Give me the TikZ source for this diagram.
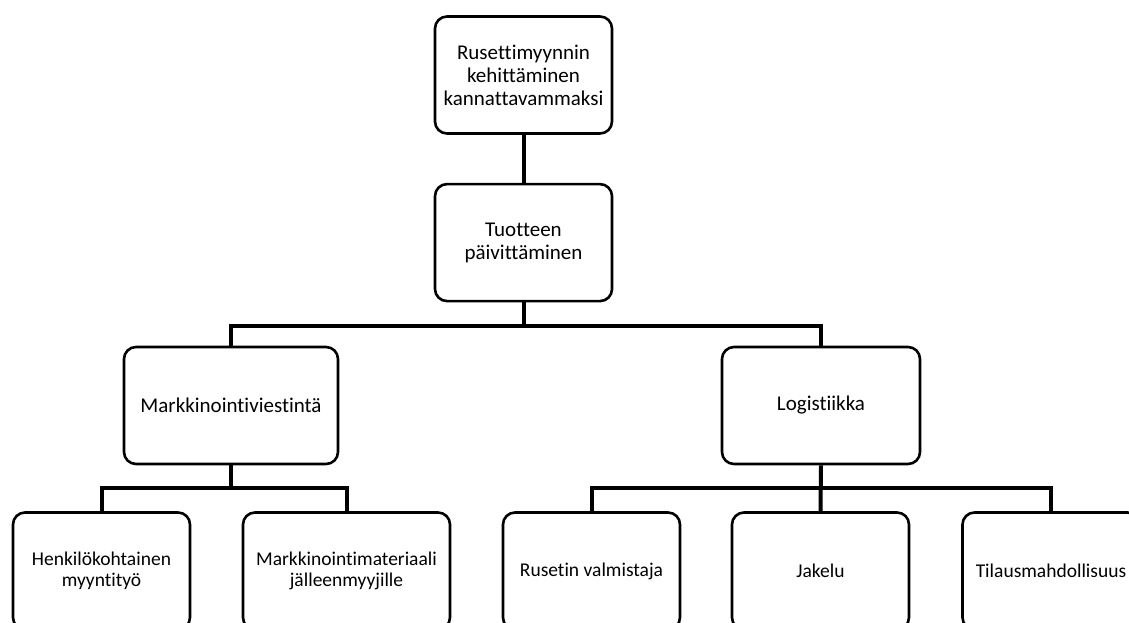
\documentclass[tikz,border=0pt]{standalone}
\usepackage{fontspec}
\setmainfont{Carlito}[Ligatures={NoCommon}]
\usetikzlibrary{positioning}

\begin{document}
\begin{tikzpicture}[x=1pt, y=-1pt,
  box/.style={draw, line width=2.6pt, rounded corners=12pt, align=center,
    minimum width=177pt, minimum height=117pt, inner sep=2pt,
    font=\fontsize{21}{23}\selectfont},
  leaf/.style={box, font=\fontsize{19.5}{21}\selectfont},
  conn/.style={line width=4pt}]
  \useasboundingbox (0,0) rectangle (1129,622);
  \clip (0,0) rectangle (1129,622);
  \node[box] (goal) at (523.5,75) {Rusettimyynnin\\kehittäminen\\kannattavammaksi};
  \node[box, below=48pt of goal] (tuote) {Tuotteen\\päivittäminen};
  \node[box, minimum width=214pt] (mark) at (231,405.5) {Markkinointiviestintä};
  \node[box, minimum width=198pt] (logi) at (821,405.5) {Logistiikka};
  \node[leaf] (henk) at (101.5,571) {Henkilökohtainen\\myyntityö};
  \node[leaf, minimum width=207pt] (mmat) at (346.5,571) {Markkinointimateriaali\\jälleenmyyjille};
  \node[leaf] (rus) at (591.5,571) {Rusetin valmistaja};
  \node[leaf] (jak) at (820.5,571) {Jakelu};
  \node[leaf] (til) at (1051,571) {Tilausmahdollisuus};
  % tree connectors
  \draw[conn] (goal) -- (tuote);
  \draw[conn] (tuote.south) -- ++(0,24) coordinate (j1);
  \draw[conn] (mark.north) |- (j1) -| (logi.north);
  \draw[conn] (mark.south) -- ++(0,23) coordinate (j2);
  \draw[conn] (henk.north) |- (j2) -| (mmat.north);
  \draw[conn] (logi.south) -- (jak.north);
  \path (logi.south) -- ++(0,23) coordinate (j3);
  \draw[conn] (rus.north) |- (j3) -| (til.north);
\end{tikzpicture}
\end{document}
